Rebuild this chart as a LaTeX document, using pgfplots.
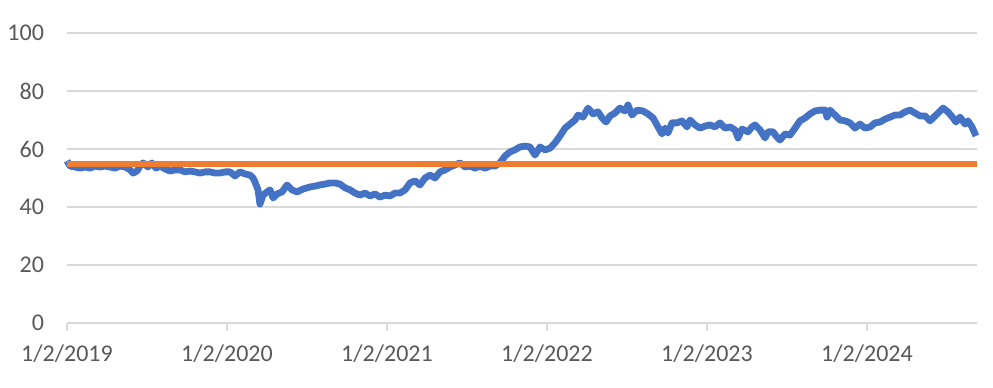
\documentclass[border=0pt]{standalone}
\usepackage{pgfplots}
\pgfplotsset{compat=1.18}
\usepackage{fontspec}
\setmainfont{Carlito}
\definecolor{exblue}{RGB}{68,114,196}
\definecolor{exorange}{RGB}{237,125,49}
\definecolor{gridgray}{RGB}{217,217,217}
\definecolor{txtgray}{RGB}{89,89,89}
\pgfplotstableread{
t v
0 55.9
0.019 54.1
0.05 53.8
0.081 53.4
0.113 53.8
0.144 53.4
0.175 54.1
0.206 53.8
0.238 54.1
0.269 53.8
0.3 53.4
0.331 54.1
0.363 53.8
0.394 52.8
0.413 51.7
0.438 52.4
0.456 54.1
0.475 55.2
0.506 53.8
0.531 55.2
0.556 53.4
0.581 54.1
0.613 53.1
0.644 52.4
0.675 52.8
0.706 52.8
0.738 52.1
0.769 52.4
0.8 52.1
0.831 51.7
0.863 52.1
0.894 52.1
0.925 51.7
0.956 51.7
0.988 52.1
1.019 52.1
1.05 50.7
1.081 52.1
1.113 51.4
1.144 51.0
1.163 50.0
1.175 48.6
1.194 45.9
1.206 41.0
1.225 44.1
1.25 45.2
1.269 45.9
1.288 43.1
1.313 44.5
1.344 45.2
1.375 47.6
1.406 45.9
1.438 45.2
1.475 46.2
1.519 46.9
1.55 47.2
1.581 47.6
1.613 47.9
1.644 48.3
1.675 48.3
1.706 47.9
1.738 46.6
1.769 45.9
1.8 44.8
1.831 44.1
1.863 44.8
1.894 43.8
1.925 44.5
1.956 43.4
1.988 44.1
2.019 43.8
2.05 44.8
2.081 44.8
2.113 45.9
2.144 48.3
2.175 49.0
2.206 47.6
2.238 50.0
2.269 51.0
2.3 50.0
2.331 52.1
2.363 52.8
2.394 53.8
2.425 54.5
2.456 55.2
2.488 53.8
2.519 54.1
2.55 53.4
2.581 54.1
2.613 53.4
2.644 54.1
2.675 54.1
2.706 55.2
2.738 57.6
2.769 59.0
2.8 59.7
2.831 60.7
2.863 61.0
2.894 60.7
2.925 57.9
2.956 60.7
2.988 59.7
3.019 60.3
3.05 62.1
3.081 64.5
3.113 67.2
3.144 68.6
3.175 70.0
3.194 71.7
3.225 71.0
3.256 74.1
3.288 72.1
3.319 72.8
3.344 70.7
3.369 69.3
3.394 71.4
3.425 72.4
3.456 74.1
3.488 73.1
3.506 75.2
3.531 71.7
3.563 73.4
3.6 73.1
3.631 72.1
3.663 70.7
3.694 67.6
3.719 65.2
3.738 67.2
3.756 65.5
3.781 69.0
3.813 69.0
3.844 69.7
3.875 67.6
3.894 70.0
3.925 68.3
3.956 67.2
3.988 67.9
4.019 68.3
4.05 67.6
4.081 69.0
4.113 67.2
4.144 67.6
4.175 66.6
4.194 63.8
4.219 66.9
4.256 65.9
4.281 67.6
4.3 68.3
4.331 66.6
4.363 63.8
4.381 65.9
4.413 65.9
4.431 64.5
4.456 63.1
4.488 65.2
4.519 64.8
4.55 67.2
4.581 69.7
4.613 70.7
4.644 72.1
4.675 73.1
4.706 73.4
4.738 73.4
4.75 71.0
4.769 73.4
4.8 71.7
4.831 70.0
4.863 69.7
4.894 69.0
4.925 67.2
4.956 68.6
4.988 67.2
5.019 67.6
5.05 69.0
5.081 69.3
5.113 70.3
5.144 71.0
5.175 71.7
5.206 71.7
5.238 72.8
5.269 73.4
5.3 72.4
5.331 71.4
5.363 71.4
5.394 69.7
5.413 70.7
5.444 72.4
5.475 74.1
5.506 72.8
5.538 70.7
5.556 69.3
5.581 71.0
5.613 68.6
5.631 69.7
5.656 67.6
5.681 64.5
}\seriesA
\begin{document}
\begin{tikzpicture}
\begin{axis}[
  name=ax,
  scale only axis,
  width=455pt, height=145pt,
  xmin=0, xmax=5.6875,
  ymin=0, ymax=100,
  ytick={0,20,...,100},
  xtick={0,1,2,3,4,5},
  xticklabels={1/2/2019,1/2/2020,1/2/2021,1/2/2022,1/2/2023,1/2/2024},
  ymajorgrids,
  grid style={gridgray, line width=0.7pt},
  axis x line*=bottom,
  axis y line*=left,
  y axis line style={draw=none},
  x axis line style={gridgray, line width=0.7pt, -},
  xtick style={gridgray, line width=0.7pt},
  tick align=outside,
  major tick length=4pt,
  ytick style={draw=none},
  ticklabel style={font=\fontsize{12}{14}\selectfont, text=txtgray},
  xticklabel style={yshift=-3.5pt},
  yticklabel style={xshift=-4pt},
  /pgf/number format/assume math mode=true,
  clip=false,
]
\addplot[exblue, line width=3.4pt, line join=round] table[x=t, y=v] {\seriesA};
\addplot[exorange, line width=3pt] coordinates {(0,54.8) (5.6875,54.8)};
\end{axis}
\path ([xshift=-33.5pt,yshift=-32.5pt]ax.south west) rectangle ([xshift=8pt,yshift=16.5pt]ax.north east);
\end{tikzpicture}
\end{document}
